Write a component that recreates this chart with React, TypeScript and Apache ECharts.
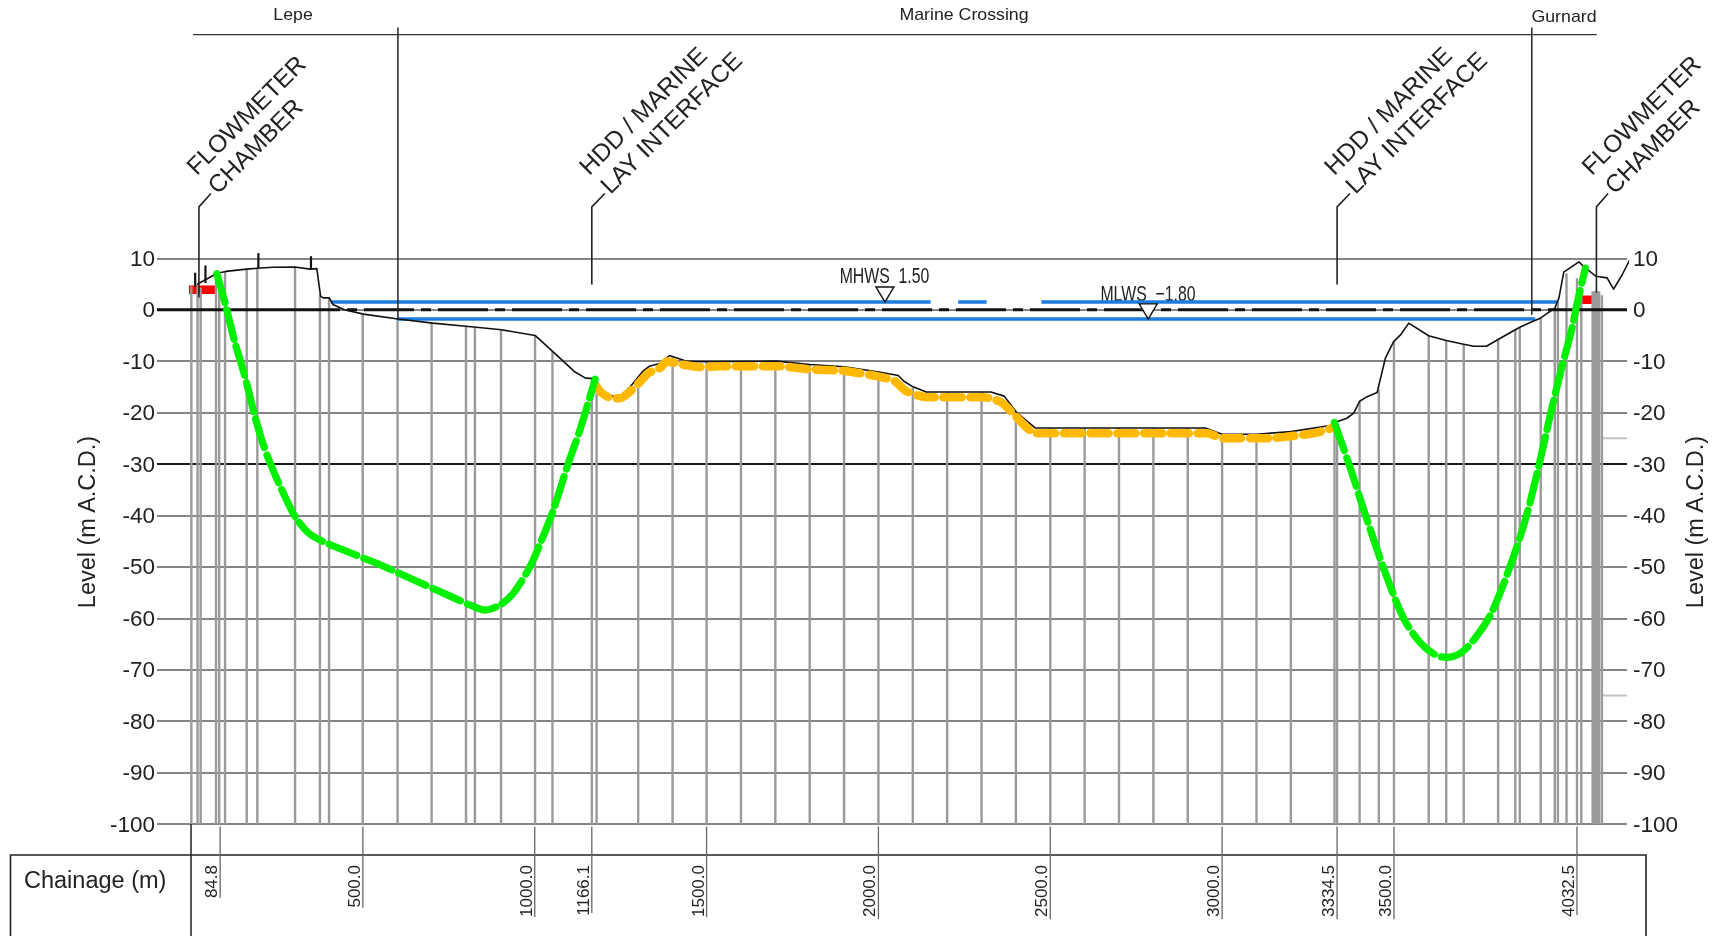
import React, { useEffect, useRef } from "react";
import * as echarts from "echarts";

const FONT = "'Liberation Sans', Arial, sans-serif";

const levelTicks = { min: -100, max: 10, interval: 10 };
const chainageLabels = [84.8, 500, 1000, 1166.1, 1500, 2000, 2500, 3000, 3334.5, 3500, 4032.5];
const chainageLabelLineEnds = [-114.4, -116.3, -118.1, -117.3, -118.1, -118.5, -118.5, -118.5, -118.5, -118.5, -117.7];

const groundProfile = [
  [17, 4.9], [76, 7.1], [101, 7.45], [162, 7.9], [201, 8.1], [240, 8.25], [302, 8.3], [346, 7.9], [366, 8.0], [377, 2.6],
  [385, 2.3], [402, 2.3], [413, 1.0], [446, 0], [502, -0.85], [602, -1.8], [703, -2.6], [800, -3.2], [903, -3.9],
  [1001, -5], [1052, -8.1], [1115, -12], [1148, -13.3], [1176, -13.4], [1195, -15.6], [1224, -16.8], [1248, -16.8], [1278, -15], [1314, -12],
  [1333, -11], [1366, -10.4], [1392, -8.9], [1444, -10.05], [1500, -10.1], [1703, -10], [1801, -10.65], [1900, -11.1],
  [2002, -12.1], [2058, -12.8], [2074, -13.9], [2101, -15], [2139, -16], [2327, -16], [2366, -16.8], [2401, -19.9],
  [2457, -23], [2951, -23], [3000, -24.2], [3101, -24.2], [3200, -23.7], [3315, -22.5], [3330, -21.9], [3363, -21.1],
  [3383, -20.1], [3400, -17.8], [3422, -16.9], [3451, -16.1], [3475, -9.4], [3499, -6.2], [3519, -4.9], [3543, -2.6],
  [3601, -5.06], [3652, -6], [3703, -6.7], [3732, -7.1], [3769, -7.1], [3803, -5.8], [3853, -3.9], [3866, -3.4],
  [3927, -1.6], [3968, 0.3], [3980, 2.3], [3994, 7.3], [4038, 9.3], [4052, 8.4], [4088, 6.5], [4120, 6.2], [4139, 4],
  [4164, 6.8], [4198, 11.3],
];

const hddLepe = [
  [75, 7.0], [99, 1.3], [113.5, -2.6], [128, -6.5], [142.6, -9.7], [162, -14.3], [181, -19.5], [205.7, -25.3], [230, -29.8],
  [264, -35], [302.7, -40.2], [341.5, -43.4], [385, -45.1], [472.5, -47.5], [550, -49.6], [647, -52.5], [744, -55.4],
  [821.7, -57.7], [855.6, -58.4], [899, -57.4], [938, -55.1], [986.6, -49.9], [1020.6, -44.7], [1054.5, -38.9],
  [1098, -29.8], [1132, -23.3], [1175.8, -13.5],
];
const hddGurnard = [
  [3326.5, -21.9], [3373, -30.8], [3412, -38.9], [3470, -50.3], [3528, -60], [3577, -64.8], [3620, -67.1], [3652.5, -67.6],
  [3693, -66.8], [3732, -64.2], [3781, -59.3], [3834, -50.6], [3882, -40.9], [3921, -30.5], [3955, -20.4], [3989, -11],
  [4018, -3.6], [4033, 1.3], [4057, 8.1],
];
const marineLay = [
  [1176, -14.6], [1195, -16.2], [1224, -17.2], [1248.5, -17.2], [1277.6, -15.9], [1302, -14.3], [1331, -12.3], [1365, -11.3],
  [1384, -10.06], [1433, -10.7], [1481, -11.15], [1540, -11], [1710, -11], [1801, -11.6], [1900, -11.9], [2002, -13], [2048, -13.9],
  [2080, -15.8], [2139, -17], [2308, -17], [2360, -18.1], [2399, -20.7], [2457, -24], [2957, -24], [3000, -25], [3139, -25],
  [3198, -24.6], [3270, -24], [3320, -23],
];
const redLepe = [[-6, 3.9], [70, 3.9]];
const redGurnard = [[4047, 1.95], [4095, 1.95]];

const mhwsLevel = 1.5;
const mlwsLevel = -1.8;
const mhwsRuns = [[407, 2152], [2232, 2315], [2474, 3976]];
const mlwsRuns = [[602, 3911]];
const tideMarkers = [[2019, 1.5], [2785, -1.8]];

const boreholeLines = [
  [1, 4.5], [19, 4.6], [28, 4.3], [72.7, 6.9], [82, 7.0], [99, 7.4], [162, 7.9], [193, 8.1], [302.7, 8.3], [375, 3.0], [401.6, 2.3],
  [499.6, -0.8], [601, -1.8], [700, -2.6], [800, -3.2], [826, -3.4], [902, -3.9], [1001, -5], [1051.6, -8], [1166.1, -13.5],
  [1180, -13.5], [1301, -13], [1401, -9.2], [1500, -10.2], [1600, -10.1], [1700, -10], [1800, -10.6], [1900, -11.1], [2000, -12.1],
  [2100, -15], [2200, -16], [2300, -16], [2400, -19.9], [2500, -23], [2600, -23], [2700, -23], [2800, -23], [2900, -23], [3000, -24.2],
  [3100, -24.2], [3200, -23.7], [3327, -22.2], [3334.5, -21.9], [3400, -17.8], [3456, -15.5], [3500, -6.2], [3601, -5.1], [3652, -6],
  [3703, -6.7], [3803, -5.8], [3853, -3.9], [3866, -3.4], [3927, -1.6], [3968, 0.3], [3977, 1.7], [4002, 7.1], [4032.5, 6.1], [4045, 4.3],
  [4078, 3.6], [4083, 3.6], [4088, 3.6], [4093, 3.6], [4097, 3.6], [4105, 2.8],
];

const dividers = [[602, 54.9, 602, -1.8], [3901, 54.9, 3901, -1]];
const topBracket = [6, 53.5, 4090, 53.5];
const surveySpikes = [[12, 4.5, 12, 7.2], [42, 5.2, 42, 8.6], [196, 8.1, 196, 11], [349, 7.9, 349, 10.4]];
const leaders = [
  [[23, 2.4], [23, 20], [58, 22.6]],
  [[1166.1, 4.9], [1166.1, 20], [1204, 22.6]],
  [[3334.5, 4.9], [3334.5, 20], [3372, 22.6]],
  [[4089, 3.3], [4089, 20], [4123, 22.6]],
];
const shortGreyLevels = [-25, -75];
const zeroSolidRuns = [[-99, 288], [4004, 4178]];
const zeroDashRun = [[288, 0], [4004, 0]];
const tableLeftEdge = [0, -100, 0, -121.8];

const sectionLabels = [
  { text: "Lepe", x: 293, y: 15 },
  { text: "Marine Crossing", x: 964, y: 15 },
  { text: "Gurnard", x: 1564, y: 17 },
];
const diagonalLabels = [
  { text: "FLOWMETER", x: 246, y: 115 },
  { text: "CHAMBER", x: 255, y: 146 },
  { text: "HDD / MARINE", x: 643, y: 110.5 },
  { text: "LAY INTERFACE", x: 671, y: 122.5 },
  { text: "HDD / MARINE", x: 1388, y: 110.5 },
  { text: "LAY INTERFACE", x: 1416, y: 122.5 },
  { text: "FLOWMETER", x: 1641, y: 115 },
  { text: "CHAMBER", x: 1652, y: 146 },
];
const tideLabels = [
  { text: "MHWS  1.50", x: 884.5, y: 276 },
  { text: "MLWS  \u22121.80", x: 1148, y: 293.5 },
];
const levelTitles = [{ x: 87 }, { x: 1695 }];

const lineSeries = (data: any, color: string, width: number, extra: any = {}) => ({
  type: "line",
  data,
  showSymbol: false,
  symbol: "none",
  clip: false,
  silent: true,
  lineStyle: { color, width, cap: "butt", join: "round", type: "solid", ...(extra.lineStyle || {}) },
  z: extra.z ?? 3,
  smooth: extra.smooth ?? false,
});

const segmentSeries = (data: number[][], color: string, width: number, z: number) => ({
  type: "custom",
  data,
  silent: true,
  z,
  renderItem: (_: any, api: any) => {
    const a = api.coord([api.value(0), api.value(1)]);
    const b = api.coord([api.value(2), api.value(3)]);
    return {
      type: "line",
      shape: { x1: a[0], y1: a[1], x2: b[0], y2: b[1] },
      style: { stroke: color, lineWidth: width, fill: "none" },
    };
  },
});

export default function App() {
  const ref = useRef<HTMLDivElement>(null);
  useEffect(() => {
    const chart = echarts.init(ref.current!, undefined, { renderer: "svg" });
    const yAxisBase = {
      type: "value",
      min: levelTicks.min,
      max: levelTicks.max,
      interval: levelTicks.interval,
      axisLine: { show: false },
      axisTick: { show: false },
    };
    const axisText = { color: "#222", fontFamily: FONT, fontSize: 22.5 };
    chart.setOption({
      animation: false,
      grid: { left: 157, top: 258.3, width: 1470, height: 565.7, containLabel: false },
      xAxis: {
        type: "value",
        min: -99,
        max: 4178,
        axisLine: { show: false },
        axisTick: { show: false },
        splitLine: { show: false },
        axisLabel: {
          customValues: chainageLabels,
          formatter: (v: number) => v.toFixed(1),
          rotate: 90,
          margin: 41,
          align: "right",
          verticalAlign: "bottom",
          color: "#222",
          fontFamily: FONT,
          fontSize: 17,
          hideOverlap: false,
        },
      },
      yAxis: [
        {
          ...yAxisBase,
          position: "left",
          axisLabel: { ...axisText, margin: 2 },
          splitLine: { show: true, lineStyle: { color: "#5c5c5c", width: 1.6 } },
        },
        {
          ...yAxisBase,
          position: "right",
          axisLabel: { ...axisText, margin: 6 },
          splitLine: { show: false },
        },
      ],
      series: [
        lineSeries([[-99, -30], [4178, -30]], "#1a1a1a", 2, { z: 1 }),
        ...shortGreyLevels.map((v) => lineSeries([[4108, v], [4178, v]], "#c2c2c2", 2, { z: 1 })),
        lineSeries(redLepe, "#ff0000", 8.5, { z: 2 }),
        lineSeries(redGurnard, "#ff0000", 8.5, { z: 2 }),
        segmentSeries(boreholeLines.map(([m, top]) => [m, -100, m, top]), "#9a9a9a", 2.4, 3),
        segmentSeries(chainageLabels.map((m, i) => [m, -100.5, m, chainageLabelLineEnds[i]]), "#666", 1.3, 3),
        segmentSeries([tableLeftEdge], "#222", 1.5, 3),
        ...zeroSolidRuns.map(([a, b]) => lineSeries([[a, 0], [b, 0]], "#111", 2.8, { z: 4 })),
        lineSeries(zeroDashRun, "#111", 2.8, { z: 4, lineStyle: { type: [50, 7, 10, 7] } }),
        ...mhwsRuns.map(([a, b]) => lineSeries([[a, mhwsLevel], [b, mhwsLevel]], "#1c7ce0", 3.6, { z: 5 })),
        ...mlwsRuns.map(([a, b]) => lineSeries([[a, mlwsLevel], [b, mlwsLevel]], "#1c7ce0", 3.6, { z: 5 })),
        lineSeries(groundProfile, "#111", 1.6, { z: 6 }),
        segmentSeries(surveySpikes, "#111", 2.2, 6),
        segmentSeries(dividers, "#222", 1.5, 6),
        segmentSeries([topBracket], "#333", 1.2, 6),
        ...leaders.map((l) => lineSeries(l, "#222", 1.6, { z: 6 })),
        lineSeries(marineLay, "#ffb900", 8.5, { z: 7, smooth: 0.2, lineStyle: { type: [18, 8.7], cap: "round" } }),
        lineSeries(hddLepe, "#03f003", 7.2, { z: 8, smooth: 0.3, lineStyle: { type: [30, 7.6], cap: "round" } }),
        lineSeries(hddGurnard, "#03f003", 7.2, { z: 8, smooth: 0.3, lineStyle: { type: [30, 7.6], cap: "round" } }),
        {
          type: "scatter",
          data: tideMarkers,
          symbol: "triangle",
          symbolRotate: 180,
          symbolSize: [18, 15],
          symbolOffset: [0, -7.5],
          silent: true,
          z: 9,
          itemStyle: { color: "#fff", borderColor: "#111", borderWidth: 1.4, opacity: 1 },
        },
      ],
      graphic: [
        {
          type: "rect",
          shape: { x: 10.5, y: 855, width: 1635.5, height: 100 },
          style: { fill: "none", stroke: "#222", lineWidth: 1.6 },
          z: 2,
        },
        {
          type: "text",
          x: 24,
          y: 880,
          style: { text: "Chainage (m)", font: `23.5px ${FONT}`, fill: "#222", textAlign: "left", textVerticalAlign: "middle" },
        },
        ...sectionLabels.map((l) => ({
          type: "text",
          x: l.x,
          y: l.y,
          scaleX: 1.11,
          style: { text: l.text, font: `16px ${FONT}`, fill: "#222", textAlign: "center", textVerticalAlign: "middle" },
        })),
        ...diagonalLabels.map((l) => ({
          type: "text",
          x: l.x,
          y: l.y,
          rotation: Math.PI / 4,
          style: { text: l.text, font: `24.5px ${FONT}`, fill: "#222", textAlign: "center", textVerticalAlign: "middle" },
        })),
        ...tideLabels.map((l) => ({
          type: "text",
          x: l.x,
          y: l.y,
          scaleX: 0.72,
          style: { text: l.text, font: `22px ${FONT}`, fill: "#222", textAlign: "center", textVerticalAlign: "middle" },
        })),
        ...levelTitles.map((l) => ({
          type: "text",
          x: l.x,
          y: 522,
          rotation: Math.PI / 2,
          style: { text: "Level (m A.C.D.)", font: `23.5px ${FONT}`, fill: "#222", textAlign: "center", textVerticalAlign: "middle" },
        })),
      ],
    });
    return () => chart.dispose();
  }, []);
  return (
    <div
      ref={ref}
      style={{ position: "absolute", left: 0, top: 0, width: 1713, height: 936, background: "#fff", overflow: "hidden", filter: "blur(0.4px)" }}
    />
  );
}
